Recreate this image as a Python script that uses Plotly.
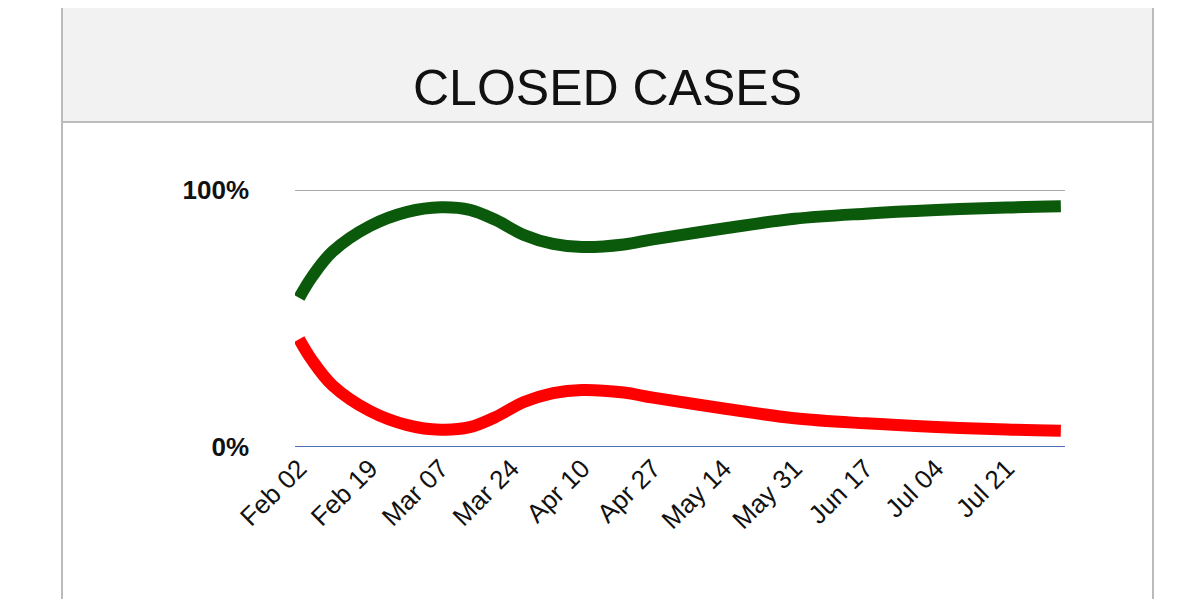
import plotly.graph_objects as go

dates = ["2020-02-02","2020-02-05","2020-02-10","2020-02-19","2020-02-28","2020-03-07","2020-03-14",
         "2020-03-20","2020-03-27","2020-04-03","2020-04-10","2020-04-20","2020-04-27","2020-05-14",
         "2020-05-31","2020-06-17","2020-07-04","2020-07-21","2020-08-03"]
recovered = [58,66,76,86,91.5,93.3,92.3,88.5,82.5,79,77.8,78.8,80.8,85,88.8,90.8,92.2,93.2,93.7]
deaths = [42,34,24,14,8.5,6.7,7.7,11.5,17.5,21,22.2,21.2,19.2,15,11.2,9.2,7.8,6.8,6.3]
tick_vals = ["2020-02-02","2020-02-19","2020-03-07","2020-03-24","2020-04-10","2020-04-27",
             "2020-05-14","2020-05-31","2020-06-17","2020-07-04","2020-07-21"]
tick_text = ["Feb 02","Feb 19","Mar 07","Mar 24","Apr 10","Apr 27","May 14","May 31","Jun 17","Jul 04","Jul 21"]

fig = go.Figure()
fig.add_trace(go.Scatter(x=dates, y=recovered, mode="lines", line=dict(color="#0b5a0b", width=12, shape="spline")))
fig.add_trace(go.Scatter(x=dates, y=deaths, mode="lines", line=dict(color="#ff0000", width=12, shape="spline")))

def px(x): return (x-295)/770
def py(y): return (447-y)/257

fig.add_shape(type="rect", xref="paper", yref="paper", x0=px(62), x1=px(1153), y0=py(122), y1=py(-20),
              fillcolor="#f2f2f2", line=dict(color="#bbbbbb", width=2), layer="below")
fig.add_shape(type="rect", xref="paper", yref="paper", x0=px(62), x1=px(1153), y0=py(620), y1=py(122),
              fillcolor="white", line=dict(color="#bbbbbb", width=2), layer="below")
fig.add_shape(type="line", xref="paper", yref="y", x0=0, x1=1, y0=100, y1=100, line=dict(color="#aaaaaa", width=2), layer="below")
fig.add_shape(type="line", xref="paper", yref="y", x0=0, x1=1, y0=0, y1=0, line=dict(color="#4a70b5", width=2))
fig.add_annotation(xref="paper", yref="paper", x=px(607), y=py(58), text="CLOSED CASES", showarrow=False,
                   font=dict(size=50, color="#111111", family="Liberation Sans"))

fig.update_layout(
    width=1200, height=599, showlegend=False,
    paper_bgcolor="white", plot_bgcolor="white",
    margin=dict(l=287, r=143, t=182, b=160),
    xaxis=dict(tickvals=tick_vals, ticktext=tick_text, tickangle=-45, showgrid=False, zeroline=False,
               range=["2020-02-01","2020-08-04"], automargin=False,
               tickfont=dict(size=26, color="#111111", family="Liberation Sans")),
    yaxis=dict(range=[0, 100], tickvals=[0, 100], ticktext=["<b>0%</b>", "<b>100%</b>"], showgrid=False,
               zeroline=False, ticks="", ticklabelstandoff=45, automargin=False,
               tickfont=dict(size=26, color="#111111", family="Liberation Sans")),
)
fig.write_html("out.html")
